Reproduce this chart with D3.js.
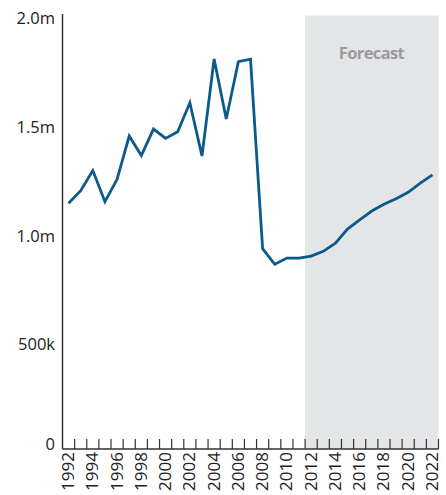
<!DOCTYPE html>
<html>
<head>
<meta charset="utf-8">
<script src="https://cdn.jsdelivr.net/npm/d3@7/dist/d3.min.js"></script>
<style>
  html, body { margin: 0; padding: 0; background: #fff; }
  svg { display: block; font-family: "Open Sans", "Noto Sans", sans-serif; }
</style>
</head>
<body>
<svg id="chart" width="446" height="495"></svg>
<script>
// Annual totals, 1992–2011 actual and 2012–2022 forecast
const years = d3.range(1992, 2023);
const values = [
  1130000, 1188000, 1280000, 1137000, 1240000, 1439000, 1349000, 1471000,
  1428000, 1459000, 1592000, 1347000, 1793000, 1517000, 1781000, 1792000,
  921000, 849000, 878000, 878000, 887000, 909000, 946000, 1011000,
  1053000, 1094000, 1125000, 1151000, 1180000, 1222000, 1260000
];
const forecastYears = [2012, 2022];
const yTicks = [0, 500000, 1000000, 1500000, 2000000];
const yTickLabels = ["0", "500k", "1.0m", "1.5m", "2.0m"];
const xLabelYears = years.filter(yr => yr % 2 === 0);

const svg = d3.select("#chart");
const plotLeft = 62.5, plotRight = 438.5, plotTop = 14, plotBottom = 449;

const x = d3.scaleBand().domain(years).range([plotLeft, plotRight]).padding(0);
const y = d3.scaleLinear().domain([0, 2000000]).range([plotBottom, plotTop]);

// Forecast shading
svg.append("rect")
  .attr("x", x(forecastYears[0]))
  .attr("y", y(2000000) + 1.5)
  .attr("width", x(forecastYears[1]) + x.bandwidth() - x(forecastYears[0]))
  .attr("height", y(0) - y(2000000) - 1.5)
  .attr("fill", "#e4e5e7");

svg.append("text")
  .attr("x", (x(forecastYears[0]) + x(forecastYears[1]) + x.bandwidth()) / 2)
  .attr("y", 59)
  .attr("text-anchor", "middle")
  .attr("font-size", 16.5)
  .attr("font-weight", "bold")
  .attr("fill", "#9a9b9d")
  .attr("textLength", 66)
  .text("Forecast");

// Y axis: line plus labels hung just below each value
svg.append("line")
  .attr("x1", plotLeft).attr("x2", plotLeft)
  .attr("y1", y(2000000)).attr("y2", y(0))
  .attr("stroke", "#333").attr("stroke-width", 1.5);

svg.selectAll("text.ylab")
  .data(yTicks)
  .join("text")
  .attr("class", "ylab")
  .attr("x", 55)
  .attr("y", d => d === 0 ? y(d) + 1 : y(d) + 10)
  .attr("text-anchor", "end")
  .attr("font-size", 16.5)
  .attr("fill", "#222")
  .text((d, i) => yTickLabels[i]);

// X axis: inward ticks at year boundaries, labels on even years
const xAxis = svg.append("g");
xAxis.append("line")
  .attr("x1", plotLeft).attr("x2", plotRight)
  .attr("y1", y(0)).attr("y2", y(0))
  .attr("stroke", "#333").attr("stroke-width", 1.5);

const boundaries = years.map(yr => x(yr) + x.bandwidth());
xAxis.selectAll("line.tick")
  .data(boundaries)
  .join("line")
  .attr("class", "tick")
  .attr("x1", d => d).attr("x2", d => d)
  .attr("y1", y(0)).attr("y2", y(0) - 10)
  .attr("stroke", "#333").attr("stroke-width", 1.2);

xAxis.selectAll("text.xlab")
  .data(xLabelYears)
  .join("text")
  .attr("class", "xlab")
  .attr("transform", d => `translate(${x(d) + x.bandwidth() / 2 + 5.5},${y(0) + 3}) rotate(-90)`)
  .attr("text-anchor", "end")
  .attr("font-size", 17)
  .attr("fill", "#222")
  .text(d => d);

// Series line
const line = d3.line()
  .x((d, i) => x(years[i]) + x.bandwidth() / 2)
  .y(d => y(d));

svg.append("path")
  .datum(values)
  .attr("d", line)
  .attr("fill", "none")
  .attr("stroke", "#0b5a8b")
  .attr("stroke-width", 2.8)
  .attr("stroke-linejoin", "miter");
</script>
</body>
</html>
